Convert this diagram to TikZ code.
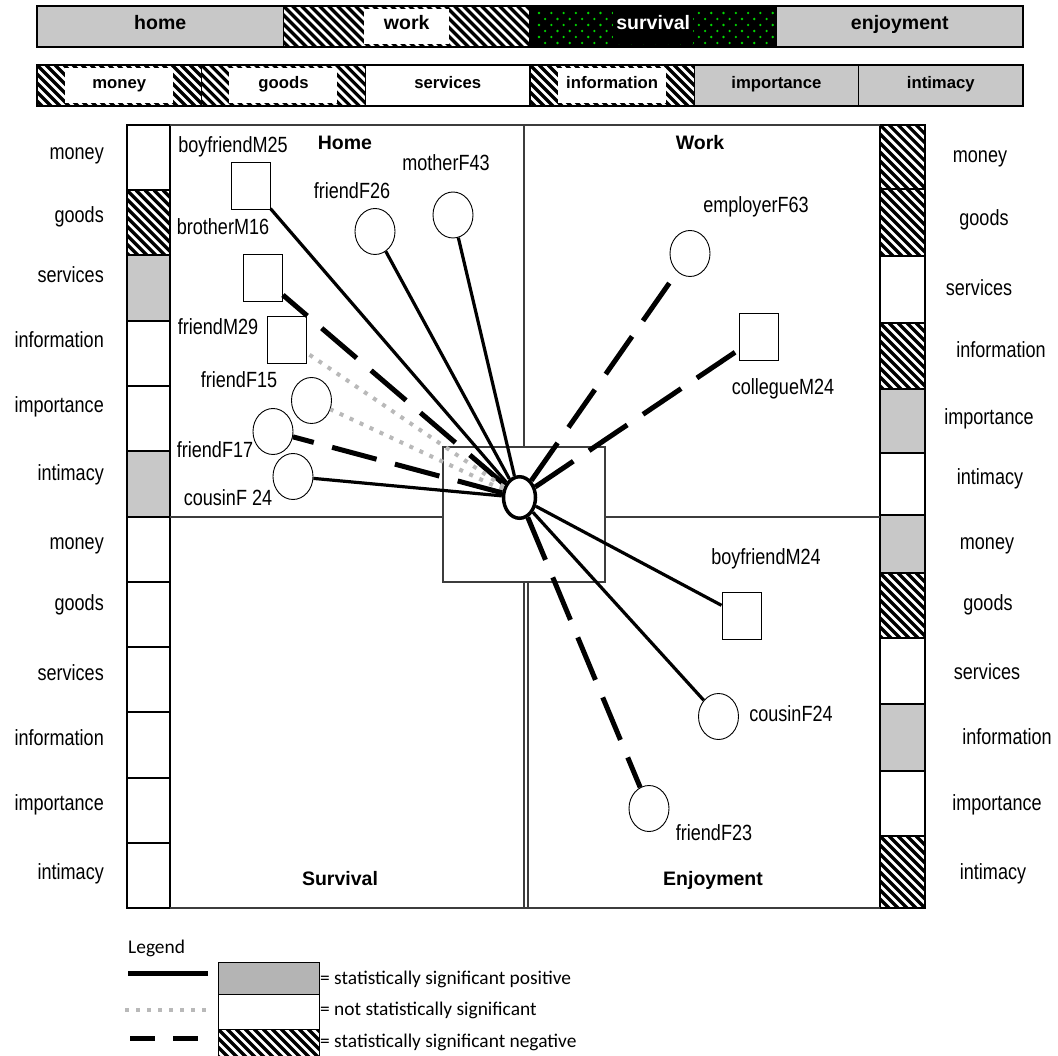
\documentclass[tikz,border=0pt]{standalone}
\usepackage{fontspec}
\setmainfont{Liberation Sans}
\newfontfamily\narrowfont{Liberation Sans}[FakeStretch=0.82]
\newfontfamily\keyfont{Carlito}
\usetikzlibrary{shapes.geometric,positioning}
\definecolor{cellgray}{RGB}{200,200,200}
\definecolor{keygray}{RGB}{180,180,180}
\definecolor{dotgray}{RGB}{185,185,185}
\definecolor{quadline}{RGB}{60,60,60}
\definecolor{dotgreen}{RGB}{0,215,0}

\tikzset{
    fillw/.style={fill=white},
    fillp/.style={fill=cellgray},
    filln/.style={fill=white, path picture={
        \foreach \k in {-8,...,28}
            \draw[line width=3.2pt] ([xshift=\k*9pt]path picture bounding box.north west) -- ++(80,80);
    }},
    fillk/.style={fill=black},
    bar/.style={draw, line width=1.6pt},
    col/.style={draw, line width=2pt},
    quad/.style={draw=quadline, line width=1.1pt},
    toplbl/.style={font=\bfseries\fontsize{19.5}{22}\selectfont, inner sep=0pt, text height=0.72em, text depth=0.2em},
    toplbln/.style={fill=white, minimum width=85pt, minimum height=35pt},
    toplblk/.style={fill=black, text=white, minimum width=80pt, minimum height=35pt},
    toplblp/.style={},
    sublbl/.style={font=\bfseries\fontsize{16.7}{20}\selectfont, inner sep=0pt, text height=0.72em, text depth=0.2em},
    sublbln/.style={fill=white, minimum width=108pt, minimum height=35pt},
    sublblw/.style={},
    sublblp/.style={},
    sidelbl/.style={font=\narrowfont\fontsize{22}{24}\selectfont, inner sep=0pt, text height=0.72em, text depth=0.2em},
    title/.style={font=\bfseries\fontsize{19.5}{22}\selectfont, inner sep=0pt, text height=0.72em, text depth=0.2em},
    male/.style={rectangle, draw, line width=0.9pt, minimum width=39pt, minimum height=47pt, inner sep=0pt},
    female/.style={ellipse, draw, line width=0.9pt, minimum width=40pt, minimum height=46pt, inner sep=0pt},
    ego/.style={ellipse, draw, line width=3.5pt, minimum width=32pt, minimum height=41.5pt, inner sep=0pt},
    sigpos/.style={line width=3.2pt},
    signeg/.style={line width=5pt, dash pattern=on 46pt off 19pt},
    nsig/.style={draw=dotgray, line width=4pt, dash pattern=on 4pt off 7pt},
    keytxt/.style={font=\keyfont\fontsize{19.4}{22}\selectfont, inner sep=0pt, text height=0.72em, text depth=0.2em}
}

\begin{document}
\begin{tikzpicture}[x=1pt, y=-1pt]
    \useasboundingbox (0,0) rectangle (1058,1056);

    % top bars
    \foreach \t/\f [count=\i from 0] in {home/p, work/n, survival/k, enjoyment/p} {
        \draw[bar, fill\f] ({37+\i*246.5},6) rectangle ({37+(\i+1)*246.5},47);
    }
    \begin{scope}
        \clip (530,6) rectangle (776.5,47);
        \foreach \r in {0,...,5}
            \foreach \c in {0,...,20}
                \fill[dotgreen] ({539+\c*12.3+mod(\r,2)*6.15},{13+\r*6}) circle (1.3pt);
    \end{scope}
    \foreach \t/\f [count=\i from 0] in {home/p, work/n, survival/k, enjoyment/p} {
        \node[toplbl, toplbl\f] (top\i) at ({37+(\i+0.5)*246.5},26.5) {\t};
    }

    \foreach \t/\f [count=\i from 0] in {money/n, goods/n, services/w, information/n, importance/p, intimacy/p} {
        \draw[bar, fill\f] ({37+\i*164.33},65) rectangle ({37+(\i+1)*164.33},106);
        \node[sublbl, sublbl\f] (sub\i) at ({37+(\i+0.5)*164.33},85.5) {\t};
    }

    % side columns
    \foreach \f [count=\i from 0] in {w,n,p,w,w,p,w,w,w,w,w,w} {
        \draw[col, fill\f] (127,{125+\i*65.25}) rectangle (170,{125+(\i+1)*65.25});
    }
    \foreach \ya/\yb/\f in {125/189/n, 189/256/n, 256/323/w, 323/389/n, 389/453/p, 453/515/w,
                            515/573/p, 573/638/n, 638/704/w, 704/771/p, 771/836/w, 836/908/n} {
        \draw[col, fill\f] (880,\ya) rectangle (925,\yb);
    }

    \foreach \t/\y [count=\i] in {money/157, goods/220, services/280, information/345, importance/410, intimacy/478,
                                  money/547, goods/608, services/678, information/743, importance/808, intimacy/877} {
        \node[sidelbl, anchor=east] (left\i) at (104,\y) {\t};
    }
    \foreach \t/\x/\y [count=\i] in {money/980/160, goods/984/223, services/979/293, information/1001/355,
                                     importance/989/422, intimacy/990/482, money/987/547, goods/988/608,
                                     services/987/677, information/1007/742, importance/997/808, intimacy/993/877} {
        \node[sidelbl] (right\i) at (\x,\y) {\t};
    }

    % quadrants
    \draw[quad] (170,125) -- (880,125);
    \draw[quad] (170,908) -- (880,908);
    \draw[quad] (524,125) -- (524,447);
    \draw[quad] (524,582) -- (524,908);
    \draw[quad] (528,582) -- (528,908);
    \draw[quad] (170,517) -- (443,517);
    \draw[quad] (605,517) -- (880,517);
    \draw[quad] (443,447) rectangle (605,582);

    \node[title] (thome) at (345,147) {Home};
    \node[title] (twork) at (700,147) {Work};
    \node[title] (tsurv) at (340,883) {Survival};
    \node[title] (tenjoy) at (713,883) {Enjoyment};

    % network
    \node[ego] (ego) at (519.5,497.5) {};

    \node[male] (bfM25) at (250.5,185.5) {};
    \node[female] (fF26) at (375,231.5) {};
    \node[female] (mF43) at (453,215) {};
    \node[male] (bM16) at (263,278) {};
    \node[male] (fM29) at (287,339.5) {};
    \node[female] (fF15) at (311.5,400.5) {};
    \node[female] (fF17) at (273,431.5) {};
    \node[female] (cF24a) at (293,476.5) {};
    \node[female] (eF63) at (690,253.5) {};
    \node[male] (cM24) at (758.5,336.5) {};
    \node[male] (bfM24) at (741.5,616) {};
    \node[female] (cF24b) at (718.5,716.5) {};
    \node[female] (fF23) at (649,808.5) {};

    \node[sidelbl] (lbfM25) at (233,150) {boyfriendM25};
    \node[sidelbl] (lmF43) at (446,168) {motherF43};
    \node[sidelbl] (lfF26) at (352,196) {friendF26};
    \node[sidelbl] (lbM16) at (223,232) {brotherM16};
    \node[sidelbl] (lfM29) at (218,332) {friendM29};
    \node[sidelbl] (lfF15) at (239,385) {friendF15};
    \node[sidelbl] (lfF17) at (215,455) {friendF17};
    \node[sidelbl] (lcF24a) at (228,503) {cousinF 24};
    \node[sidelbl] (leF63) at (756,210) {employerF63};
    \node[sidelbl] (lcM24) at (783,392) {collegueM24};
    \node[sidelbl] (lbfM24) at (766,562) {boyfriendM24};
    \node[sidelbl] (lcF24b) at (791,719) {cousinF24};
    \node[sidelbl] (lfF23) at (714,838) {friendF23};

    \draw[sigpos] (ego) -- (bfM25);
    \draw[sigpos] (ego) -- (fF26);
    \draw[sigpos] (ego) -- (mF43);
    \draw[signeg] (ego) -- (bM16);
    \draw[nsig] (ego) -- (fM29);
    \draw[nsig] (ego) -- (fF15);
    \draw[signeg] (ego) -- (fF17);
    \draw[sigpos] (ego) -- (cF24a);
    \draw[signeg] (ego) -- (eF63);
    \draw[signeg] (ego) -- (cM24);
    \draw[sigpos] (ego) -- (bfM24);
    \draw[sigpos] (ego) -- (cF24b);
    \draw[signeg] (ego) -- (fF23);

    % legend
    \node[keytxt, anchor=west] (lgnd) at (128,951) {Legend};
    \coordinate (kpA) at (128,973);
    \coordinate (kpB) at (208,973);
    \coordinate (knA) at (125,1010);
    \coordinate (knB) at (207,1010);
    \coordinate (kdA) at (130,1038);
    \coordinate (kdB) at (198,1038);
    \draw[line width=5pt] (kpA) -- (kpB);
    \draw[nsig] (knA) -- (knB);
    \draw[line width=5pt, dash pattern=on 25pt off 18pt] (kdA) -- (kdB);

    \draw[line width=1pt, fill=keygray] (218,962) rectangle (319,994);
    \draw[line width=1pt, fillw] (218,994) rectangle (319,1029);
    \draw[line width=1pt, filln] (218,1029) rectangle (319,1062);
    \node[keytxt, anchor=west] (key1) at (320,982) {= statistically significant positive};
    \node[keytxt, anchor=west] (key2) at (320,1013) {= not statistically significant};
    \node[keytxt, anchor=west] (key3) at (320,1045) {= statistically significant negative};
\end{tikzpicture}
\end{document}
